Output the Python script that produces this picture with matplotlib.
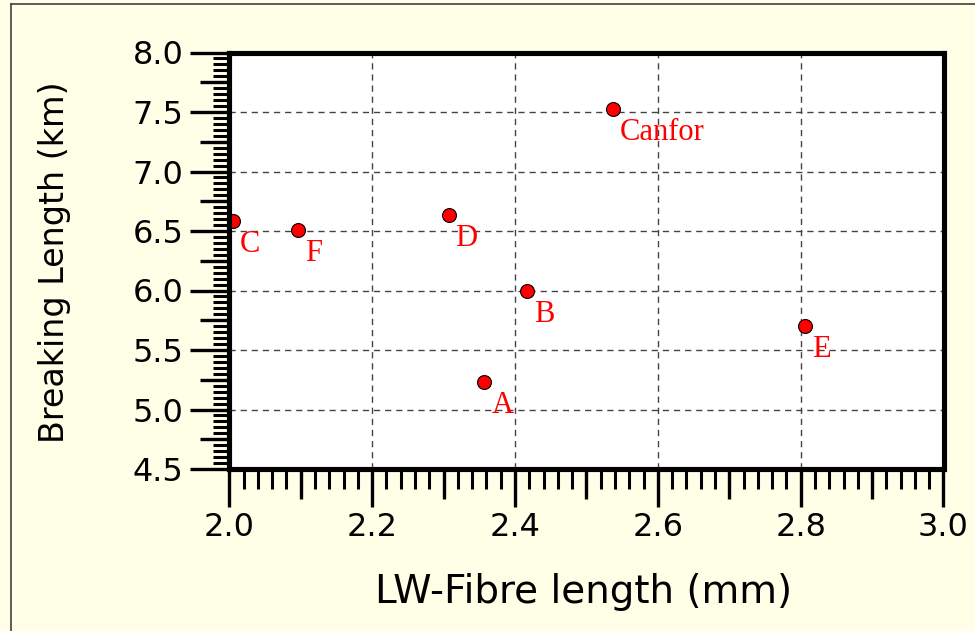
import matplotlib
matplotlib.use("Agg")
import matplotlib.pyplot as plt
from matplotlib.lines import Line2D
import numpy as np

# ---- data ----
names = ["C", "F", "D", "B", "A", "Canfor", "E"]
fibre_length = [2.005, 2.096, 2.307, 2.417, 2.357, 2.537, 2.806]
breaking_length = [6.58, 6.51, 6.635, 5.995, 5.23, 7.525, 5.70]

x_major = [2.0, 2.2, 2.4, 2.6, 2.8, 3.0]
x_labels = ["2.0", "2.2", "2.4", "2.6", "2.8", "3.0"]
x_mid = [2.1, 2.3, 2.5, 2.7, 2.9]
y_major = [4.5, 5.0, 5.5, 6.0, 6.5, 7.0, 7.5, 8.0]
y_labels = ["4.5", "5.0", "5.5", "6.0", "6.5", "7.0", "7.5", "8.0"]
y_mid = [4.75, 5.25, 5.75, 6.25, 6.75, 7.25, 7.75]

x_label = "LW-Fibre length (mm)"
y_label = "Breaking Length (km)"

BG = "#FFFEE6"

fig = plt.figure(figsize=(9.75, 6.31), dpi=100, facecolor=BG)
ax = fig.add_axes([229.3 / 975, 1 - 469 / 631, 714.2 / 975, 416.5 / 631])
ax.set_facecolor("white")

ax.set_xlim(2.0, 3.0)
ax.set_ylim(4.5, 8.0)

ax.grid(True, which="major", color="#444444", linestyle=(0, (4.5, 3.5)), linewidth=1.0)

ax.plot(fibre_length, breaking_length, linestyle="none", marker="o",
        markersize=10, markerfacecolor="#FF0000", markeredgecolor="black",
        markeredgewidth=0.8, zorder=2)

for n, xv, yv in zip(names, fibre_length, breaking_length):
    ax.annotate(n, (xv, yv), xytext=(7, -31), textcoords="offset pixels",
                ha="left", va="baseline", color="#FF0000",
                fontsize=22, family=["Liberation Serif", "DejaVu Serif"])

for s in ax.spines.values():
    s.set_linewidth(3.7)
    s.set_color("black")

tick_font = 23
ax.set_xticks(x_major)
ax.set_xticklabels(x_labels)
ax.set_yticks(y_major)
ax.set_yticklabels(y_labels)
ax.set_xticks(np.arange(2.0, 3.0001, 0.02), minor=True)
ax.set_yticks(np.arange(4.5, 8.0001, 0.05), minor=True)
ax.tick_params(which="major", direction="out", length=27, width=2.4,
               labelsize=tick_font, pad=4, color="black")
ax.tick_params(axis="x", which="minor", direction="out", length=14.4, width=2.2)
ax.tick_params(axis="y", which="minor", direction="out", length=11.5, width=2.2)
ax.tick_params(axis="y", which="major", length=28, pad=5)

secx = ax.secondary_xaxis("bottom")
secx.set_xticks(x_mid)
secx.tick_params(direction="out", length=21.6, width=2.4, labelbottom=False)
secx.spines["bottom"].set_visible(False)

secy = ax.secondary_yaxis("left")
secy.set_yticks(y_mid)
secy.tick_params(direction="out", length=21, width=2.4, labelleft=False)
secy.spines["left"].set_visible(False)

ax.set_xlabel(x_label, fontsize=28, family="DejaVu Sans")
ax.xaxis.set_label_coords(0.496, -0.25)
ax.set_ylabel(y_label, fontsize=24, family="DejaVu Sans")
ax.yaxis.set_label_coords(-0.222, 0.496)

# figure frame lines (top and left)
fig.add_artist(Line2D([10.5 / 975, 10.5 / 975], [0, 1 - 4 / 631],
                      transform=fig.transFigure, color="#404040", linewidth=1.2))
fig.add_artist(Line2D([10.5 / 975, 1], [1 - 4 / 631, 1 - 4 / 631],
                      transform=fig.transFigure, color="#404040", linewidth=1.2))

fig.savefig("out.png", dpi=100, facecolor=BG)
